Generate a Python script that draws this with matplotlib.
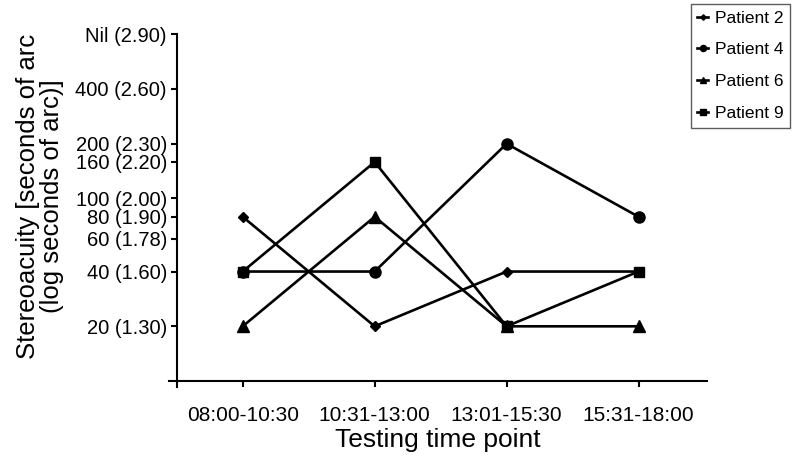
import matplotlib
matplotlib.use("Agg")
import matplotlib.pyplot as plt

plt.rcParams['font.family'] = ['Liberation Sans', 'DejaVu Sans']

# data (log seconds of arc)
time_points = ['08:00-10:30', '10:31-13:00', '13:01-15:30', '15:31-18:00']
patient2 = [1.90, 1.30, 1.60, 1.60]
patient4 = [1.60, 1.60, 2.30, 1.90]
patient6 = [1.30, 1.90, 1.30, 1.30]
patient9 = [1.60, 2.20, 1.30, 1.60]

ytick_vals = [1.30, 1.60, 1.78, 1.90, 2.00, 2.20, 2.30, 2.60, 2.90]
ytick_labels = ['20 (1.30)', '40 (1.60)', '60 (1.78)', '80 (1.90)', '100 (2.00)',
                '160 (2.20)', '200 (2.30)', '400 (2.60)', 'Nil (2.90)']

fig = plt.figure(figsize=(8, 4.68), dpi=100)
ax = fig.add_axes([0.211, 0.174, 0.673, 0.753])

x = range(len(time_points))
ax.plot(x, patient2, color='black', lw=1.9, marker='D', ms=5, label='Patient 2')
ax.plot(x, patient4, color='black', lw=1.9, marker='o', ms=8, label='Patient 4')
ax.plot(x, patient6, color='black', lw=1.9, marker='^', ms=8, label='Patient 6')
ax.plot(x, patient9, color='black', lw=1.9, marker='s', ms=7, label='Patient 9')

ax.set_xlim(-0.56, 3.52)
ax.set_ylim(0.97, 2.9)
ax.spines['top'].set_visible(False)
ax.spines['right'].set_visible(False)
ax.spines['left'].set_position(('data', -0.5))
ax.spines['bottom'].set_position(('data', 1.0))
ax.spines['left'].set_bounds(0.97, 2.9)
for s in ['left', 'bottom']:
    ax.spines[s].set_linewidth(1.5)

ax.set_xticks(list(x))
ax.set_xticklabels(time_points, fontsize=15)
ax.set_yticks(ytick_vals)
ax.set_yticklabels(ytick_labels, fontsize=14.5)
ax.tick_params(axis='both', direction='out', length=4, width=1.5, color='black')
ax.tick_params(axis='y', pad=3)
ax.tick_params(axis='x', pad=14)

ax.set_xlabel('Testing time point', fontsize=19, labelpad=2)
ax.set_ylabel('Stereoacuity [seconds of arc\n(log seconds of arc)]', fontsize=18.5,
              linespacing=1.0)
ax.yaxis.set_label_coords(-0.195, 0.54)

leg = ax.legend(loc='upper right', bbox_to_anchor=(0.988, 0.992),
                bbox_transform=fig.transFigure, fontsize=12.5, frameon=True,
                fancybox=False, edgecolor='#333333', handlelength=0.6,
                handletextpad=0.4, borderaxespad=0, borderpad=0.4,
                labelspacing=0.95, markerscale=0.55)
leg.get_frame().set_linewidth(1.0)

fig.savefig('out.png', dpi=100)
